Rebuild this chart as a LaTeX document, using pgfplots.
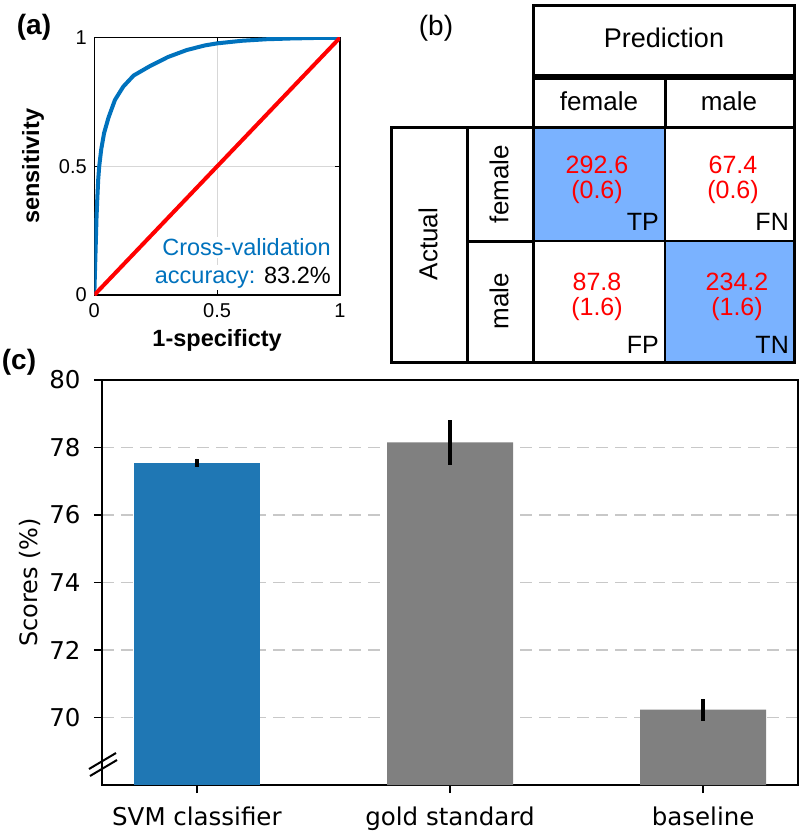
\documentclass[border=0pt]{standalone}
\usepackage{pgfplots}
\pgfplotsset{compat=1.18}
\usepackage{fontspec}
\setmainfont{Liberation Sans}
\newfontfamily\dejavu{DejaVu Sans}
\definecolor{rocblue}{RGB}{0,114,189}
\definecolor{rocred}{RGB}{255,0,0}
\definecolor{cellblue}{RGB}{122,178,255}
\definecolor{mplblue}{HTML}{1F77B4}
\definecolor{mplgray}{HTML}{808080}
\definecolor{gridgray}{RGB}{200,200,200}
\definecolor{roccgrid}{RGB}{215,215,215}

\pgfplotstableread{
fpr tpr
0 0
0.003 0.10
0.006 0.20
0.009 0.30
0.012 0.37
0.016 0.45
0.020 0.50
0.028 0.565
0.040 0.63
0.058 0.69
0.084 0.758
0.118 0.81
0.160 0.853
0.227 0.89
0.300 0.925
0.376 0.952
0.450 0.970
0.500 0.978
0.600 0.988
0.700 0.994
0.800 0.997
0.900 0.999
1 1
}\roc

\pgfplotstableread{
x y err
0 77.55 0.12
}\svm
\pgfplotstableread{
x y err
1 78.15 0.66
2 70.23 0.32
}\others

\begin{document}
\begin{tikzpicture}
\path[use as bounding box] (0,0) rectangle (800pt,-831pt);

% ---------------- (a) ROC ----------------
\begin{axis}[
  at={(94.3pt,-295pt)}, anchor=south west, scale only axis,
  width=245.7pt, height=257.3pt,
  xmin=0, xmax=1, ymin=0, ymax=1,
  xtick={0,0.5,1}, ytick={0,0.5,1},
  grid=major, major grid style={roccgrid, line width=1.3pt},
  axis line style={line width=1.5pt},
  major tick length=5pt, tick style={black, line width=1.2pt},
  /pgf/number format/assume math mode=true,
  ticklabel style={font=\fontsize{20}{24}\selectfont},
  xticklabel style={yshift=-5pt},
  yticklabel style={xshift=-4pt},
  xlabel={1-specificty}, ylabel={sensitivity},
  label style={font=\bfseries\fontsize{23.5}{28}\selectfont},
  xlabel style={at={(axis description cs:0.5,-0.175)}, anchor=center},
  ylabel style={at={(axis description cs:-0.2495,0.5)}, anchor=center},
]
\addplot[rocblue, line width=4pt, line join=round] table[x=fpr, y=tpr] {\roc};
\addplot[rocred, line width=4pt] coordinates {(0,0) (1,1)};
\node[anchor=base east, fill=white, inner sep=2pt, text=rocblue, font=\fontsize{23.5}{28}\selectfont]
  at (axis cs:0.9715,0.153) {Cross-validation};
\node[anchor=base east, fill=white, inner sep=2pt, font=\fontsize{23.5}{28}\selectfont]
  at (axis cs:0.9715,0.045) {\textcolor{rocblue}{accuracy:} 83.2\%};
\end{axis}

% ---------------- (b) confusion table ----------------
\begin{scope}[x=1pt, y=-1pt]
\fill[cellblue] (533,127) rectangle (665,241);
\fill[cellblue] (665,241) rectangle (794,362);
\draw[line width=1.5pt] (665,127) -- (665,362);
\draw[line width=1.5pt] (533,241) -- (794,241);
\draw[line width=3pt] (533,5) rectangle (794,75);
\draw[line width=3pt] (533,78) rectangle (794,127);
\draw[line width=3pt] (665,78) -- (665,127);
\draw[line width=3pt] (391,127) rectangle (467,362);
\draw[line width=3pt] (467,127) rectangle (533,362);
\draw[line width=3pt] (467,241) -- (533,241);
\draw[line width=3pt] (533,127) rectangle (794,362);

\node[font=\fontsize{27}{32}\selectfont] at (664,38) {Prediction};
\node[font=\fontsize{26}{30}\selectfont] at (599,101) {female};
\node[font=\fontsize{26}{30}\selectfont] at (729,101) {male};
\node[font=\fontsize{26}{30}\selectfont, rotate=90] at (428,244) {Actual};
\node[font=\fontsize{26}{30}\selectfont, rotate=90] at (499,184) {female};
\node[font=\fontsize{26}{30}\selectfont, rotate=90] at (499,301) {male};

\node[text=red, font=\fontsize{25}{29}\selectfont, align=center] at (597,180) {292.6\\[-4pt](0.6)};
\node[text=red, font=\fontsize{25}{29}\selectfont, align=center] at (733,180) {67.4\\[-4pt](0.6)};
\node[text=red, font=\fontsize{25}{29}\selectfont, align=center] at (597,297) {87.8\\[-4pt](1.6)};
\node[text=red, font=\fontsize{25}{29}\selectfont, align=center] at (737,297) {234.2\\[-4pt](1.6)};

\node[anchor=east, inner sep=0pt, font=\fontsize{25}{29}\selectfont] at (659,222) {TP};
\node[anchor=east, inner sep=0pt, font=\fontsize{25}{29}\selectfont] at (789,222) {FN};
\node[anchor=east, inner sep=0pt, font=\fontsize{25}{29}\selectfont] at (659,345) {FP};
\node[anchor=east, inner sep=0pt, font=\fontsize{25}{29}\selectfont] at (789,345) {TN};

\node[font=\bfseries\fontsize{28}{32}\selectfont] at (34,27) {(a)};
\node[font=\fontsize{28}{32}\selectfont] at (436,28) {(b)};
\node[font=\bfseries\fontsize{28}{32}\selectfont] at (19,362) {(c)};
\end{scope}

% ---------------- (c) bar chart ----------------
\begin{axis}[
  at={(102pt,-785pt)}, anchor=south west, scale only axis,
  width=696pt, height=405pt,
  xmin=-0.375, xmax=2.375, ymin=68, ymax=80,
  xtick={0,1,2}, xticklabels={SVM classifier, gold standard, baseline},
  ytick={70,72,...,80},
  tick align=outside, xtick pos=bottom, ytick pos=left,
  major tick length=8pt, tick style={black, line width=1.5pt},
  ymajorgrids, major grid style={gridgray, line width=1.5pt, dash pattern=on 12pt off 7pt},
  axis line style={line width=1.5pt},
  /pgf/number format/assume math mode=true,
  ticklabel style={font=\dejavu\fontsize{24.5}{28}\selectfont},
  xticklabel style={yshift=-10pt},
  yticklabel style={xshift=-10pt},
  ylabel={Scores (\%)},
  ylabel style={font=\dejavu\fontsize{24}{28}\selectfont, at={(axis description cs:-0.1034,0.5)}, anchor=center},
]
\addplot[ybar, bar shift=0pt, bar width=126pt, fill=mplblue, draw=none,
  error bars/.cd, y dir=both, y explicit, error mark=none,
  error bar style={line width=3.5pt, black}]
  table[x=x, y=y, y error=err] {\svm};
\addplot[ybar, bar shift=0pt, bar width=126pt, fill=mplgray, draw=none,
  error bars/.cd, y dir=both, y explicit, error mark=none,
  error bar style={line width=3.5pt, black}]
  table[x=x, y=y, y error=err] {\others};
\end{axis}

% axis-break marks
\begin{scope}[x=1pt, y=-1pt]
\draw[line width=2pt] (89,769) -- (116,753);
\draw[line width=2pt] (90,776) -- (117,760);
\end{scope}
\end{tikzpicture}
\end{document}
